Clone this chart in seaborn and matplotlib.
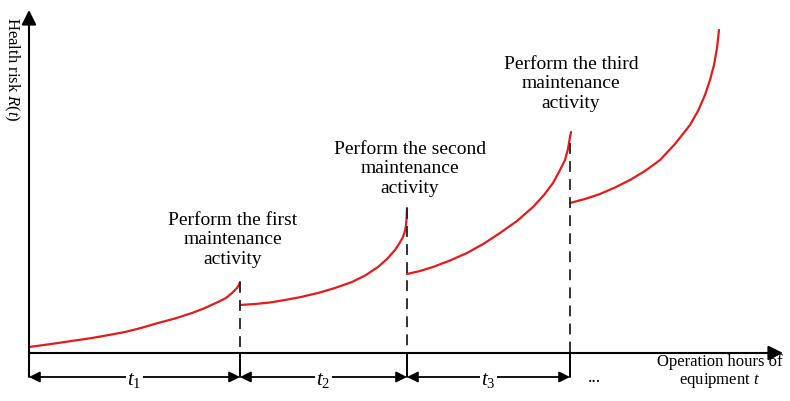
import matplotlib
matplotlib.use('Agg')
import matplotlib.pyplot as plt
import pandas as pd
import seaborn as sns

sns.set_style('white')
plt.rcParams['font.family'] = ['Liberation Serif', 'DejaVu Serif']
plt.rcParams['text.color'] = 'black'
plt.rcParams['mathtext.fontset'] = 'custom'
plt.rcParams['mathtext.rm'] = 'Liberation Serif'
plt.rcParams['mathtext.it'] = 'Liberation Serif:italic'

# health risk curves, one per maintenance cycle
seg1_t = [0, 1.5, 2.9, 4.6, 6.3, 8.0, 9.6, 11.2, 12.9, 14.6, 16.3, 17.6,
          18.9, 19.7, 20.3, 20.8, 21.0, 21.1]
seg1_r = [0.6, 0.8, 1.0, 1.25, 1.5, 1.8, 2.1, 2.5, 3.0, 3.45, 4.0, 4.5,
          5.1, 5.5, 6.0, 6.5, 6.8, 7.1]
seg2_t = [21.1, 22.6, 24.1, 25.6, 27.2, 28.9, 30.6, 32.3, 33.7, 34.9, 35.8,
          36.6, 37.0, 37.4, 37.6, 37.7, 37.77, 37.8]
seg2_r = [4.8, 4.9, 5.05, 5.3, 5.6, 6.0, 6.5, 7.1, 7.8, 8.6, 9.4,
          10.3, 10.9, 11.6, 12.2, 12.8, 13.6, 14.5]
seg3_t = [37.8, 39.1, 40.4, 42.1, 43.8, 45.5, 47.1, 48.8, 50.4, 51.5, 52.4,
          53.0, 53.6, 53.9, 54.1, 54.2]
seg3_r = [7.9, 8.2, 8.6, 9.25, 10.0, 10.95, 12.0, 13.2, 14.6, 15.8, 17.0,
          18.1, 19.3, 20.4, 21.6, 22.1]
seg4_t = [54.1, 55.6, 57.1, 58.6, 60.1, 61.6, 63.1, 64.6, 66.1, 66.9, 67.6,
          68.1, 68.5, 68.8, 69.0]
seg4_r = [15.0, 15.4, 15.9, 16.55, 17.3, 18.2, 19.3, 20.9, 22.8, 24.2, 25.8,
          27.3, 28.8, 30.5, 32.3]

# maintenance moments and the risk where the dashed line starts
maint_t = [21.1, 37.8, 54.1]
maint_r = [7.1, 14.5, 21.0]
interval_labels = [r'$\mathit{t_1}$', r'$\mathit{t_2}$', r'$\mathit{t_3}$']
notes = ['Perform the first\nmaintenance\nactivity',
         'Perform the second\nmaintenance\nactivity',
         'Perform the third\nmaintenance\nactivity']
note_x = [20.4, 38.1, 54.2]
note_y = [11.3, 18.4, 26.9]

segs = [(seg1_t, seg1_r), (seg2_t, seg2_r), (seg3_t, seg3_r), (seg4_t, seg4_r)]
df = pd.concat([pd.DataFrame({'t': t, 'risk': r, 'cycle': i})
                for i, (t, r) in enumerate(segs)], ignore_index=True)

fig = plt.figure(figsize=(7.9, 4.01), dpi=100)
ax = fig.add_axes([0, 0, 1, 1])
ax.set_xlim(-2.9, 76.1)
ax.set_ylim(-4.8, 35.3)
ax.axis('off')

red = '#e31b1b'
sns.lineplot(data=df, x='t', y='risk', units='cycle', estimator=None,
             sort=False, color=red, lw=1.6, ax=ax)
for line in ax.lines:
    line.set_solid_joinstyle('round')

row = -2.4
arrow = dict(arrowstyle='-|>', color='black', lw=1.5, mutation_scale=22,
             shrinkA=0, shrinkB=0)
# axes with arrow heads
ax.annotate('', xy=(0, 34.3), xytext=(0, row), arrowprops=arrow)
ax.annotate('', xy=(75.4, 0), xytext=(0, 0), arrowprops=arrow)

# dashed lines at maintenance moments, solid ticks below the axis
for t, r in zip(maint_t, maint_r):
    ax.plot([t, t], [r, 0], color='#222222', lw=1.3, dashes=(6, 4))
    ax.plot([t, t], [0, row], color='black', lw=1.4)

# interval arrows
bounds = [0] + maint_t
dbl = dict(arrowstyle='<|-|>', color='black', lw=1.3, mutation_scale=16,
           shrinkA=0, shrinkB=0)
for a, b, lab in zip(bounds[:-1], bounds[1:], interval_labels):
    ax.annotate('', xy=(a, row), xytext=(b, row), arrowprops=dbl)
    ax.text((a + b) / 2, row - 0.3, lab, ha='center', va='center', fontsize=15,
            bbox=dict(fc='white', ec='none', pad=1))
ax.text(56.5, row - 0.1, '...', ha='center', va='center', fontsize=13)

for x, y, s in zip(note_x, note_y, notes):
    ax.text(x, y, s, ha='center', va='center', fontsize=14, linespacing=1.2)

ax.text(-1.7, 33.6, r'Health risk $\mathit{R(t)}$', rotation=-90, ha='center',
        va='top', fontsize=12)
ax.text(69.1, -1.9, 'Operation hours of\nequipment $\\mathit{t}$', ha='center',
        va='center', fontsize=12, linespacing=1.05)

fig.savefig('out.png', dpi=100)
